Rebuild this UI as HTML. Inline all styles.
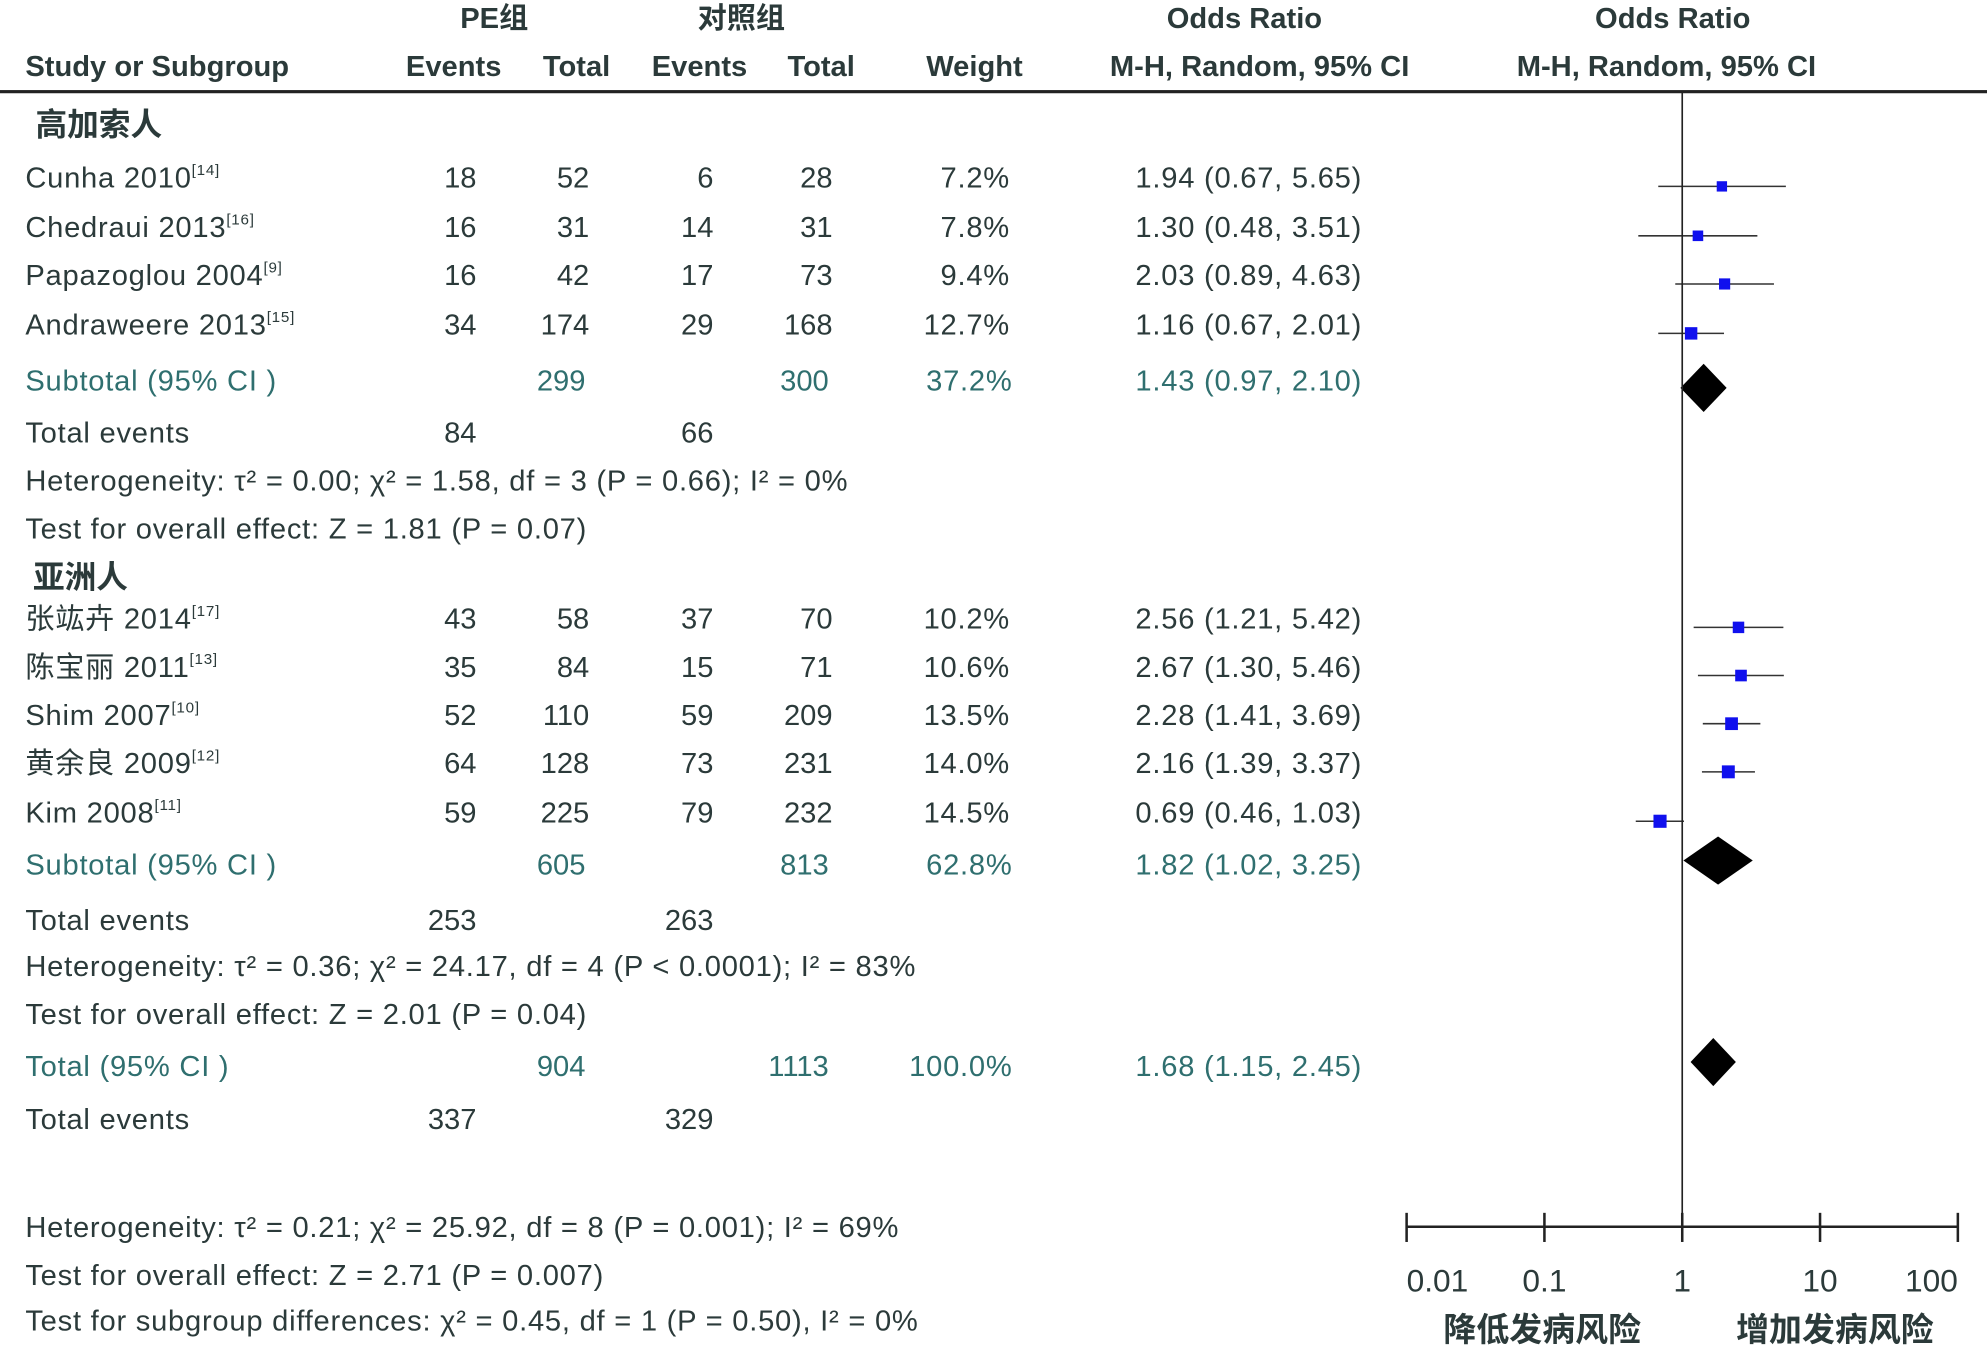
<!DOCTYPE html>
<html><head><meta charset="utf-8"><style>
html,body{margin:0;padding:0;background:#fff}
svg{display:block}
text{font-family:"Liberation Sans","Noto Sans CJK SC",sans-serif;font-size:23px;fill:#2b3a3a}
.h{font-weight:bold;font-size:23px}
.s{fill:#2f6f6f}
.r{text-anchor:end}
.m{text-anchor:middle}
.sup{font-size:12px}
.cjk{font-size:25px;font-weight:bold}
.ls{letter-spacing:0.6px}
</style></head><body>
<svg id="plot" width="1987" height="1346" viewBox="0 0 1568 1062" xmlns="http://www.w3.org/2000/svg">
<g>
<text class="h m" x="390" y="22">PE组</text>
<text class="h m" x="585" y="22">对照组</text>
<text class="h m" x="982" y="22">Odds Ratio</text>
<text class="h m" x="1320" y="22">Odds Ratio</text>
<text class="h" x="20" y="60">Study or Subgroup</text>
<text class="h m" x="358" y="60">Events</text>
<text class="h m" x="455" y="60">Total</text>
<text class="h m" x="552" y="60">Events</text>
<text class="h m" x="648" y="60">Total</text>
<text class="h m" x="769" y="60">Weight</text>
<text class="h m" x="994" y="60">M-H, Random, 95% CI</text>
<text class="h m" x="1315" y="60">M-H, Random, 95% CI</text>
<rect x="0" y="71" width="1568" height="2.5" fill="#222"/>
</g>
<g id="table"></g>
<g id="marks"></g>
<g id="axis"></g>
<text class="m" x="1217" y="1058" style="font-size:26px;font-weight:bold">降低发病风险</text>
<text class="m" x="1448" y="1058" style="font-size:26px;font-weight:bold">增加发病风险</text>
</svg>
<script>
const studies=["Cunha 2010","Chedraui 2013","Papazoglou 2004","Andraweere 2013","张竑卉 2014","陈宝丽 2011","Shim 2007","黄余良 2009","Kim 2008"];
const refs=["[14]","[16]","[9]","[15]","[17]","[13]","[10]","[12]","[11]"];
const peEvents=[18,16,16,34,43,35,52,64,59];
const peTotal=[52,31,42,174,58,84,110,128,225];
const ctEvents=[6,14,17,29,37,15,59,73,79];
const ctTotal=[28,31,73,168,70,71,209,231,232];
const weights=[7.2,7.8,9.4,12.7,10.2,10.6,13.5,14.0,14.5];
const orVals=[1.94,1.30,2.03,1.16,2.56,2.67,2.28,2.16,0.69];
const loVals=[0.67,0.48,0.89,0.67,1.21,1.30,1.41,1.39,0.46];
const hiVals=[5.65,3.51,4.63,2.01,5.42,5.46,3.69,3.37,1.03];
const summaryLabels=["sub1","sub2","total"];
const sumOr=[1.43,1.82,1.68];
const sumLo=[0.97,1.02,1.15];
const sumHi=[2.10,3.25,2.45];
const sumPe=[299,605,904];
const sumCt=[300,813,1113];
const sumW=["37.2%","62.8%","100.0%"];
const ticks=[0.01,0.1,1,10,100];
const tickLabels=["0.01","0.1","1","10","100"];

const NS="http://www.w3.org/2000/svg";
const X0=1110,X1=1545;
function xs(v){return X0+(Math.log10(v)+2)/4*(X1-X0);}
function mk(tag,attrs,parent,txt){const e=document.createElementNS(NS,tag);for(const k in attrs)e.setAttribute(k,attrs[k]);if(txt!==undefined)e.textContent=txt;parent.appendChild(e);return e;}
const tb=document.getElementById('table'),mg=document.getElementById('marks'),ax=document.getElementById('axis');
const rowY=[140,179,217,256,488,526,564,602,641];
const f2=v=>v.toFixed(2);
function txt(x,y,s,cls,name){const t=mk('text',{x:x,y:y+8,class:cls||''},tb,s);return t;}
txt(28,99,"高加索人","cjk","subgroup-caucasian");
txt(26,456,"亚洲人","cjk","subgroup-asian");
studies.forEach((s,i)=>{
  const y=rowY[i];
  const t=txt(20,y,s,"ls","study-name");
  mk('tspan',{class:'sup',dy:-10},t,refs[i]);
  txt(376,y,String(peEvents[i]),"r","pe-events");
  txt(465,y,String(peTotal[i]),"r","pe-total");
  txt(563,y,String(ctEvents[i]),"r","control-events");
  txt(657,y,String(ctTotal[i]),"r","control-total");
  txt(797,y,weights[i].toFixed(1)+"%","r ls","weight");
  txt(896,y,f2(orVals[i])+" ("+f2(loVals[i])+", "+f2(hiVals[i])+")","ls","odds-ratio-ci");
  const my=y+7;
  const l=mk('line',{x1:xs(loVals[i]),x2:xs(hiVals[i]),y1:my,y2:my,stroke:'#333','stroke-width':1.2},mg);
  
  
  const sz=6+weights[i]*0.3;
  const r=mk('rect',{x:xs(orVals[i])-sz/2,y:my-sz/2,width:sz,height:sz,fill:'#1010ee'},mg);
  
  
});
const sumY=[300,682,841],dY=[306,679,838];
const sumNames=["Subtotal (95% CI )","Subtotal (95% CI )","Total (95% CI )"];
sumY.forEach((y,i)=>{
  txt(20,y,sumNames[i],"s ls","summary-label");
  txt(462,y,String(sumPe[i]),"s r","summary-pe-total");
  txt(654,y,String(sumCt[i]),"s r","summary-control-total");
  txt(799,y,sumW[i],"s r ls","summary-weight");
  txt(896,y,f2(sumOr[i])+" ("+f2(sumLo[i])+", "+f2(sumHi[i])+")","s ls","summary-or");
  const c=dY[i],h=19;
  const p=mk('polygon',{points:`${xs(sumLo[i])},${c} ${xs(sumOr[i])},${c-h} ${xs(sumHi[i])},${c} ${xs(sumOr[i])},${c+h}`,fill:'#000'},mg);
  
  
});
const extra=[
 [341,"Total events",84,66],[726,"Total events",253,263],[883,"Total events",337,329]];
extra.forEach(e=>{txt(20,e[0],e[1],"ls","total-events-label");txt(376,e[0],String(e[2]),"r","total-events-pe");txt(563,e[0],String(e[3]),"r","total-events-control");});
const notes=[
 [379,"Heterogeneity: τ² = 0.00; χ² = 1.58, df = 3 (P = 0.66); I² = 0%"],
 [417,"Test for overall effect: Z = 1.81 (P = 0.07)"],
 [762,"Heterogeneity: τ² = 0.36; χ² = 24.17, df = 4 (P < 0.0001); I² = 83%"],
 [800,"Test for overall effect: Z = 2.01 (P = 0.04)"],
 [968,"Heterogeneity: τ² = 0.21; χ² = 25.92, df = 8 (P = 0.001); I² = 69%"],
 [1006,"Test for overall effect: Z = 2.71 (P = 0.007)"],
 [1042,"Test for subgroup differences: χ² = 0.45, df = 1 (P = 0.50), I² = 0%"]];
notes.forEach(n=>txt(20,n[0],n[1],"ls","stats-note"));
const nl=mk('line',{x1:xs(1),x2:xs(1),y1:73,y2:968,stroke:'#222','stroke-width':1.3},ax);


const al=mk('line',{x1:X0,x2:X1,y1:968,y2:968,stroke:'#222','stroke-width':2},ax);


ticks.forEach((t,i)=>{
  const tk=mk('line',{x1:xs(t),x2:xs(t),y1:957,y2:980,stroke:'#222','stroke-width':2},ax);
  
  
  const anchor=i==0?'start':(i==4?'end':'middle');
  const lb=mk('text',{x:i==0?X0:(i==4?X1:xs(t)),y:1019,'text-anchor':anchor,style:'font-size:25px'},ax,tickLabels[i]);
  
  
});
</script>
</body></html>
